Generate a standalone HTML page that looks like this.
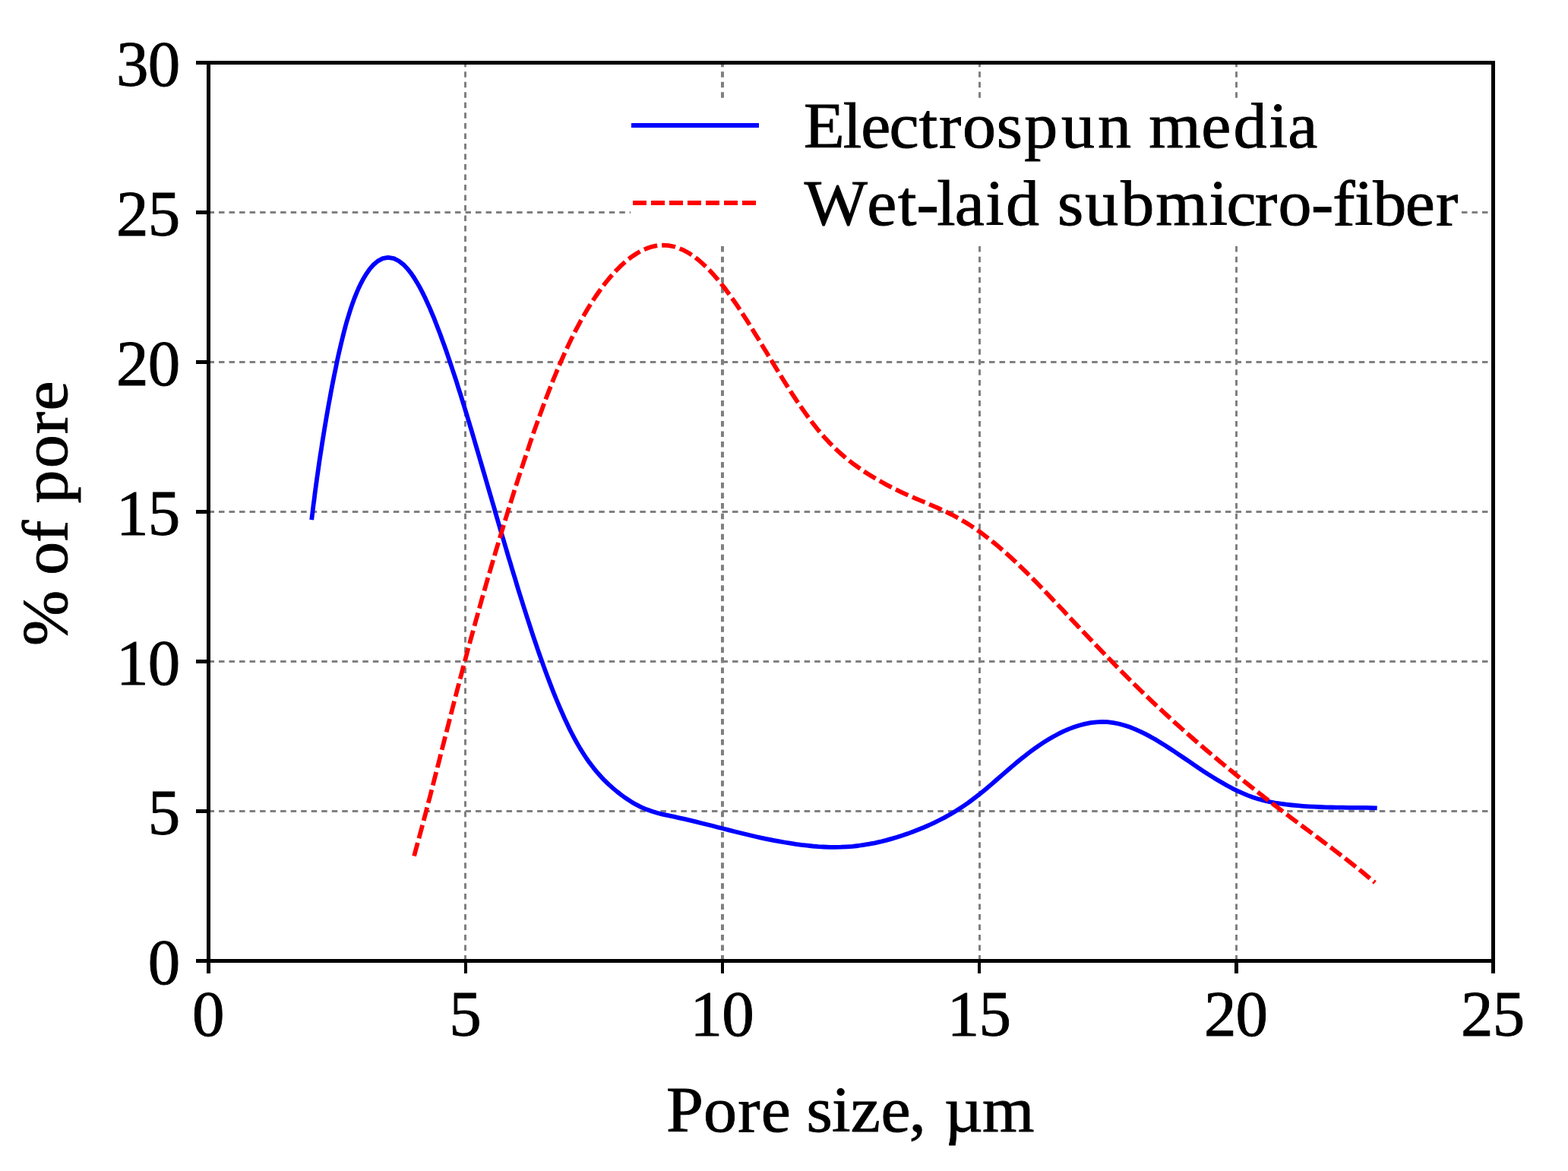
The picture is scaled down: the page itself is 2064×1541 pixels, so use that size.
<!DOCTYPE html>
<html lang="en"><head><meta charset="utf-8"><title>Pore size distribution</title>
<style>
html,body{margin:0;padding:0;background:#fff;}
body{width:2064px;height:1541px;overflow:hidden;}
svg{display:block;}
text{font-family:"Liberation Serif",serif;fill:#000;font-kerning:none;font-variant-ligatures:none;white-space:pre;stroke:#000;stroke-width:0.9px;}
</style></head><body>
<svg width="2064" height="1541" viewBox="0 0 2064 1541">
<rect width="2064" height="1541" fill="#fff"/>
<defs><clipPath id="ax"><rect x="274.5" y="82.5" width="1691.0" height="1182.0"/></clipPath></defs>

<g stroke="#808080" stroke-dasharray="7.5 6.02" fill="none">
<line x1="612.5" y1="1264.5" x2="612.5" y2="82.5" stroke-width="3"/>
<line x1="951.0" y1="1264.5" x2="951.0" y2="82.5" stroke-width="4"/>
<line x1="1289.5" y1="1264.5" x2="1289.5" y2="82.5" stroke-width="3"/>
<line x1="1627.5" y1="1264.5" x2="1627.5" y2="82.5" stroke-width="3"/>
<line x1="274.5" y1="1067.5" x2="1965.5" y2="1067.5" stroke-width="3"/>
<line x1="274.5" y1="870.5" x2="1965.5" y2="870.5" stroke-width="3"/>
<line x1="274.5" y1="673.5" x2="1965.5" y2="673.5" stroke-width="3"/>
<line x1="274.5" y1="476.5" x2="1965.5" y2="476.5" stroke-width="3"/>
<line x1="274.5" y1="279.5" x2="1965.5" y2="279.5" stroke-width="3"/>
</g>
<rect x="830" y="129" width="1093.5" height="195" fill="#fff"/>
<g clip-path="url(#ax)" fill="none" stroke-width="5.8" stroke-linejoin="round">
<path d="M410.2 684.2 L410.7 680.1 L411.6 672.6 L412.5 665.2 L413.5 657.8 L414.4 650.3 L415.4 642.9 L416.4 635.5 L417.4 628.1 L418.5 620.7 L419.5 613.3 L420.6 605.9 L421.7 598.5 L422.9 591.1 L424.0 583.7 L425.2 576.3 L426.4 568.9 L427.6 561.5 L428.9 554.1 L430.1 546.7 L431.4 539.4 L432.7 532.0 L434.1 524.6 L435.4 517.3 L436.8 509.9 L438.2 502.6 L439.7 495.2 L441.2 487.9 L442.7 480.5 L444.2 473.2 L445.8 465.9 L447.5 458.6 L449.2 451.3 L451.0 444.0 L452.8 436.8 L454.7 429.5 L456.7 422.3 L458.9 415.2 L461.1 408.0 L463.5 400.9 L466.0 393.9 L468.8 386.9 L471.7 380.0 L474.9 373.3 L478.4 366.7 L482.3 360.3 L486.6 354.1 L491.5 348.5 L497.2 343.6 L503.8 340.1 L511.1 338.8 L518.5 340.1 L525.1 343.5 L531.0 348.1 L536.2 353.5 L540.9 359.4 L545.1 365.5 L549.0 371.9 L552.7 378.4 L556.2 385.1 L559.5 391.8 L562.6 398.6 L565.7 405.4 L568.6 412.3 L571.5 419.2 L574.2 426.2 L576.9 433.2 L579.6 440.2 L582.1 447.2 L584.7 454.2 L587.2 461.3 L589.6 468.4 L592.0 475.5 L594.4 482.6 L596.7 489.7 L599.1 496.8 L601.4 503.9 L603.6 511.1 L605.9 518.2 L608.1 525.3 L610.3 532.5 L612.5 539.6 L614.7 546.8 L616.9 554.0 L619.0 561.1 L621.2 568.3 L623.3 575.5 L625.4 582.7 L627.5 589.9 L629.6 597.0 L631.7 604.2 L633.8 611.4 L635.9 618.6 L638.0 625.8 L640.1 633.0 L642.2 640.2 L644.3 647.4 L646.4 654.5 L648.5 661.7 L650.6 668.9 L652.6 676.1 L654.7 683.3 L656.8 690.5 L658.9 697.7 L661.0 704.8 L663.2 712.0 L665.3 719.2 L667.4 726.4 L669.5 733.6 L671.7 740.7 L673.8 747.9 L676.0 755.1 L678.2 762.2 L680.3 769.4 L682.5 776.6 L684.7 783.7 L687.0 790.9 L689.2 798.0 L691.5 805.1 L693.8 812.3 L696.1 819.4 L698.4 826.5 L700.7 833.6 L703.1 840.7 L705.5 847.8 L707.9 854.9 L710.4 862.0 L712.9 869.0 L715.4 876.1 L717.9 883.1 L720.5 890.1 L723.2 897.1 L725.9 904.1 L728.6 911.1 L731.4 918.0 L734.3 925.0 L737.2 931.8 L740.2 938.7 L743.2 945.5 L746.4 952.3 L749.6 959.1 L753.0 965.8 L756.5 972.4 L760.1 978.9 L763.9 985.4 L767.9 991.7 L772.0 998.0 L776.3 1004.1 L780.9 1010.1 L785.6 1015.8 L790.6 1021.5 L795.7 1026.9 L801.1 1032.1 L806.7 1037.1 L812.4 1041.9 L818.3 1046.5 L824.4 1050.8 L830.7 1054.9 L837.1 1058.7 L843.8 1062.1 L850.7 1065.1 L857.7 1067.6 L864.9 1069.8 L872.1 1071.6 L879.4 1073.2 L886.8 1074.7 L894.1 1076.3 L901.4 1077.9 L908.7 1079.6 L916.0 1081.4 L923.2 1083.2 L930.5 1085.0 L937.8 1086.8 L945.0 1088.7 L952.3 1090.5 L959.5 1092.4 L966.8 1094.2 L974.0 1096.0 L981.3 1097.8 L988.6 1099.5 L995.9 1101.2 L1003.2 1102.8 L1010.5 1104.3 L1017.9 1105.8 L1025.2 1107.2 L1032.6 1108.5 L1040.0 1109.7 L1047.4 1110.9 L1054.8 1111.9 L1062.2 1112.7 L1069.7 1113.5 L1077.2 1114.1 L1084.6 1114.5 L1092.1 1114.8 L1099.6 1114.8 L1107.1 1114.7 L1114.6 1114.3 L1122.0 1113.8 L1129.5 1113.0 L1136.9 1111.9 L1144.3 1110.7 L1151.6 1109.3 L1158.9 1107.7 L1166.2 1105.9 L1173.4 1103.9 L1180.6 1101.8 L1187.7 1099.5 L1194.8 1097.1 L1201.8 1094.5 L1208.8 1091.8 L1215.7 1089.0 L1222.6 1086.0 L1229.4 1082.8 L1236.1 1079.5 L1242.8 1076.1 L1249.3 1072.5 L1255.8 1068.7 L1262.1 1064.7 L1268.4 1060.6 L1274.6 1056.4 L1280.6 1051.9 L1286.5 1047.4 L1292.4 1042.7 L1298.2 1037.9 L1303.9 1033.1 L1309.5 1028.2 L1315.2 1023.3 L1320.9 1018.4 L1326.5 1013.5 L1332.2 1008.6 L1337.9 1003.8 L1343.7 999.0 L1349.5 994.4 L1355.5 989.8 L1361.5 985.4 L1367.6 981.1 L1373.9 976.9 L1380.2 973.0 L1386.7 969.2 L1393.3 965.7 L1400.0 962.4 L1406.9 959.4 L1413.9 956.8 L1421.0 954.5 L1428.3 952.6 L1435.6 951.2 L1443.0 950.3 L1450.5 949.9 L1458.0 950.2 L1465.4 951.1 L1472.8 952.5 L1480.0 954.5 L1487.1 956.8 L1494.1 959.6 L1500.9 962.6 L1507.6 965.9 L1514.2 969.4 L1520.7 973.1 L1527.2 977.0 L1533.5 980.9 L1539.8 985.0 L1546.1 989.1 L1552.3 993.3 L1558.5 997.5 L1564.7 1001.7 L1570.8 1005.9 L1577.0 1010.1 L1583.3 1014.3 L1589.5 1018.4 L1595.9 1022.4 L1602.2 1026.3 L1608.7 1030.1 L1615.2 1033.8 L1621.8 1037.3 L1628.5 1040.6 L1635.3 1043.7 L1642.2 1046.6 L1649.3 1049.2 L1656.4 1051.5 L1663.6 1053.4 L1670.9 1055.1 L1678.3 1056.5 L1685.7 1057.7 L1693.1 1058.7 L1700.5 1059.5 L1708.0 1060.2 L1715.4 1060.8 L1722.9 1061.3 L1730.4 1061.7 L1737.9 1062.0 L1745.3 1062.3 L1752.8 1062.5 L1760.3 1062.7 L1767.8 1062.7 L1775.3 1062.8 L1782.8 1062.8 L1790.3 1062.8 L1797.7 1062.9 L1805.2 1063.1 L1812.7 1063.4" stroke="#0000ff"/>
<path d="M545.1 1126.5 L547.0 1119.5 L548.9 1112.5 L550.8 1105.5 L552.7 1098.5 L554.6 1091.5 L556.5 1084.5 L558.3 1077.5 L560.2 1070.5 L562.0 1063.4 L563.8 1056.4 L565.7 1049.4 L567.5 1042.4 L569.3 1035.4 L571.1 1028.3 L572.9 1021.3 L574.7 1014.3 L576.5 1007.2 L578.3 1000.2 L580.0 993.2 L581.8 986.1 L583.6 979.1 L585.4 972.1 L587.2 965.1 L589.0 958.0 L590.8 951.0 L592.6 944.0 L594.4 936.9 L596.2 929.9 L598.0 922.9 L599.8 915.9 L601.6 908.9 L603.5 901.8 L605.3 894.8 L607.2 887.8 L609.0 880.8 L610.9 873.8 L612.8 866.8 L614.6 859.8 L616.5 852.8 L618.4 845.8 L620.3 838.8 L622.3 831.8 L624.2 824.8 L626.1 817.8 L628.1 810.8 L630.0 803.8 L632.0 796.8 L633.9 789.8 L635.9 782.9 L637.9 775.9 L639.9 768.9 L641.9 761.9 L643.9 755.0 L646.0 748.0 L648.0 741.1 L650.1 734.1 L652.1 727.1 L654.2 720.2 L656.3 713.2 L658.4 706.3 L660.5 699.4 L662.6 692.4 L664.7 685.5 L666.9 678.5 L669.0 671.6 L671.2 664.7 L673.3 657.8 L675.5 650.9 L677.7 643.9 L679.9 637.0 L682.1 630.1 L684.4 623.2 L686.6 616.3 L688.9 609.4 L691.2 602.5 L693.5 595.7 L695.8 588.8 L698.1 581.9 L700.5 575.1 L702.8 568.2 L705.2 561.4 L707.7 554.5 L710.1 547.7 L712.6 540.9 L715.1 534.1 L717.6 527.3 L720.2 520.5 L722.8 513.7 L725.5 507.0 L728.1 500.2 L730.9 493.5 L733.6 486.8 L736.5 480.1 L739.4 473.5 L742.3 466.8 L745.3 460.2 L748.4 453.7 L751.6 447.1 L754.8 440.6 L758.1 434.2 L761.5 427.8 L764.9 421.4 L768.5 415.1 L772.2 408.8 L776.0 402.6 L779.8 396.5 L783.8 390.5 L788.0 384.5 L792.2 378.6 L796.6 372.8 L801.1 367.2 L805.9 361.7 L810.8 356.3 L815.8 351.2 L821.2 346.2 L826.7 341.5 L832.5 337.2 L838.6 333.2 L844.9 329.7 L851.6 326.8 L858.5 324.6 L865.6 323.1 L872.8 322.7 L880.0 323.1 L887.1 324.5 L894.0 326.8 L900.7 329.7 L907.0 333.2 L913.0 337.2 L918.8 341.6 L924.3 346.4 L929.6 351.3 L934.7 356.5 L939.6 361.8 L944.4 367.3 L949.0 372.9 L953.5 378.6 L957.8 384.4 L962.1 390.3 L966.3 396.2 L970.4 402.2 L974.4 408.2 L978.4 414.3 L982.3 420.4 L986.2 426.5 L990.0 432.7 L993.8 438.9 L997.6 445.0 L1001.4 451.2 L1005.1 457.4 L1008.9 463.6 L1012.6 469.8 L1016.4 476.0 L1020.2 482.2 L1024.0 488.4 L1027.8 494.6 L1031.6 500.8 L1035.5 506.9 L1039.4 513.0 L1043.3 519.1 L1047.3 525.2 L1051.4 531.2 L1055.5 537.2 L1059.7 543.1 L1063.9 549.0 L1068.2 554.8 L1072.7 560.5 L1077.2 566.2 L1081.9 571.7 L1086.7 577.1 L1091.7 582.4 L1096.8 587.6 L1102.0 592.6 L1107.4 597.5 L1112.9 602.2 L1118.5 606.8 L1124.3 611.2 L1130.2 615.4 L1136.1 619.5 L1142.2 623.5 L1148.4 627.3 L1154.6 631.0 L1160.9 634.6 L1167.3 638.1 L1173.7 641.4 L1180.2 644.6 L1186.8 647.8 L1193.4 650.8 L1200.0 653.7 L1206.7 656.6 L1213.4 659.4 L1220.0 662.2 L1226.7 665.1 L1233.4 668.0 L1240.0 671.0 L1246.5 674.1 L1253.0 677.3 L1259.4 680.7 L1265.7 684.3 L1271.9 688.0 L1278.1 691.9 L1284.1 696.0 L1290.0 700.2 L1295.9 704.5 L1301.6 708.9 L1307.3 713.4 L1312.9 718.0 L1318.4 722.7 L1323.9 727.5 L1329.3 732.3 L1334.6 737.3 L1339.9 742.3 L1345.1 747.3 L1350.3 752.4 L1355.4 757.5 L1360.5 762.6 L1365.6 767.8 L1370.6 773.0 L1375.6 778.3 L1380.6 783.5 L1385.6 788.8 L1390.6 794.1 L1395.6 799.3 L1400.6 804.6 L1405.5 809.9 L1410.5 815.2 L1415.5 820.5 L1420.5 825.7 L1425.5 831.0 L1430.5 836.3 L1435.5 841.5 L1440.5 846.8 L1445.5 852.0 L1450.5 857.2 L1455.6 862.4 L1460.6 867.6 L1465.7 872.8 L1470.8 878.0 L1475.9 883.2 L1481.0 888.3 L1486.1 893.5 L1491.2 898.6 L1496.4 903.6 L1501.6 908.7 L1506.8 913.8 L1512.1 918.8 L1517.3 923.8 L1522.6 928.8 L1527.9 933.7 L1533.2 938.6 L1538.6 943.5 L1543.9 948.4 L1549.3 953.3 L1554.7 958.1 L1560.1 963.0 L1565.6 967.7 L1571.0 972.5 L1576.5 977.3 L1582.0 982.0 L1587.5 986.7 L1593.0 991.4 L1598.6 996.1 L1604.2 1000.8 L1609.7 1005.4 L1615.3 1010.0 L1620.9 1014.6 L1626.6 1019.2 L1632.2 1023.8 L1637.9 1028.3 L1643.5 1032.8 L1649.2 1037.3 L1654.9 1041.8 L1660.6 1046.3 L1666.3 1050.8 L1672.1 1055.2 L1677.8 1059.6 L1683.6 1064.0 L1689.3 1068.4 L1695.1 1072.8 L1700.9 1077.2 L1706.7 1081.5 L1712.5 1085.9 L1718.3 1090.2 L1724.2 1094.5 L1730.0 1098.9 L1735.8 1103.2 L1741.6 1107.6 L1747.4 1111.9 L1753.2 1116.3 L1759.0 1120.7 L1764.7 1125.1 L1770.5 1129.5 L1776.2 1134.0 L1781.9 1138.5 L1787.6 1143.0 L1793.2 1147.6 L1798.8 1152.2 L1804.4 1156.8 L1809.9 1161.5" stroke="#ff0000" stroke-dasharray="18.05 6.02"/>
</g>
<rect x="274.5" y="82.5" width="1691.0" height="1182.0" fill="none" stroke="#000" stroke-width="5"/>
<g fill="#000">
<rect x="272" y="1267" width="5" height="14"/>
<rect x="611" y="1267" width="4" height="14"/>
<rect x="949" y="1267" width="4" height="14"/>
<rect x="1287" y="1267" width="4" height="14"/>
<rect x="1625" y="1267" width="5" height="14"/>
<rect x="1963" y="1267" width="5" height="14"/>
<rect x="258" y="1262.0" width="14" height="5"/>
<rect x="258" y="1065.0" width="14" height="5"/>
<rect x="258" y="868.0" width="14" height="5"/>
<rect x="258" y="671.0" width="14" height="5"/>
<rect x="258" y="474.0" width="14" height="5"/>
<rect x="258" y="277.0" width="14" height="5"/>
<rect x="258" y="80.0" width="14" height="5"/>
</g>
<line x1="831" y1="165" x2="999" y2="165" stroke="#0000ff" stroke-width="6"/>
<line x1="833" y1="267" x2="999" y2="267" stroke="#ff0000" stroke-width="6" stroke-dasharray="18 6"/>
<text transform="matrix(1.0300 0 0 1.0000 0 194.20)" x="1027.28 1077.35 1100.35 1136.44 1174.56 1199.99 1230.08 1273.59 1308.98 1356.32 1402.90 1445.65 1468.31 1535.16 1576.29 1621.87 1645.84" y="0" font-size="85.5">Electrospun media</text>
<text transform="matrix(1.0300 0 0 1.0000 0 296.10)" x="1028.04 1107.93 1147.47 1171.26 1197.44 1220.25 1259.54 1285.37 1328.12 1351.50 1386.66 1432.34 1477.00 1545.08 1567.46 1603.97 1633.58 1675.77 1703.19 1731.10 1754.72 1795.89 1834.94" y="0" font-size="85.5">Wet-laid submicro-fiber</text>
<text x="252.95" y="1363.00" font-size="85">0</text>
<text x="591.15" y="1363.00" font-size="85">5</text>
<text x="908.52 950.18" y="1363.00" font-size="85">10</text>
<text x="1246.72 1288.38" y="1363.00" font-size="85">15</text>
<text x="1584.92 1626.58" y="1363.00" font-size="85">20</text>
<text x="1923.12 1964.78" y="1363.00" font-size="85">25</text>
<text x="194.72" y="1295.20" font-size="85">0</text>
<text x="194.72" y="1098.20" font-size="85">5</text>
<text x="153.05 194.72" y="901.20" font-size="85">10</text>
<text x="153.05 194.72" y="704.20" font-size="85">15</text>
<text x="153.05 194.72" y="507.20" font-size="85">20</text>
<text x="153.05 194.72" y="310.20" font-size="85">25</text>
<text x="153.05 194.72" y="113.20" font-size="85">30</text>
<text transform="matrix(1.0300 0 0 1.0000 0 1488.90)" x="851.53 899.16 943.00 972.54 1010.49 1030.53 1063.04 1087.14 1125.74 1161.83 1183.21 1206.89 1255.30" y="0" font-size="85.5">Pore size, µm</text>
<text transform="matrix(0 -1.0300 1.0000 0 88.30 0)" x="-825.34 -754.11 -734.92 -693.12 -664.65 -643.11 -598.27 -554.67 -524.79" y="0" font-size="85.5">% of pore</text>
</svg>
</body></html>
